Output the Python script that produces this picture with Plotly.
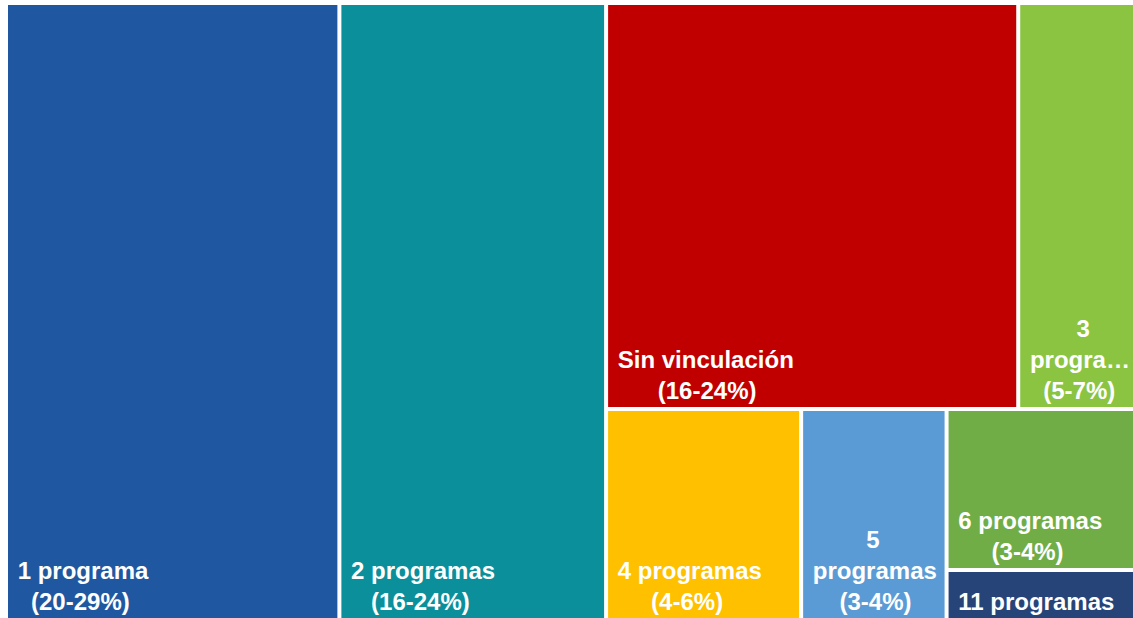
import plotly.graph_objects as go

# Leaf categories, their displayed labels and area values (share, %)
categories = ["1 programa", "2 programas", "Sin vinculación", "3 programas",
              "4 programas", "5 programas", "6 programas", "11 programas"]
ranges = ["(20-29%)", "(16-24%)", "(16-24%)", "(5-7%)",
          "(4-6%)", "(3-4%)", "(3-4%)", ""]
values = [29.5, 23.6, 24.0, 6.8, 5.9, 4.4, 4.35, 1.35]
colors = ["#1F58A0", "#0A8F9B", "#C00000", "#8BC441",
          "#FFC000", "#5B9BD5", "#70AD47", "#264478"]

# Displayed label text (lines roughly centred with non-breaking spaces)
NB = "\u00a0"
label_text = [
    NB + "1 programa<br>" + NB * 3 + "(20-29%)",
    NB + "2 programas<br>" + NB * 4 + "(16-24%)",
    NB + "Sin vinculación<br>" + NB * 7 + "(16-24%)",
    NB * 8 + "3<br>" + NB + "progra…<br>" + NB * 3 + "(5-7%)",
    NB + "4 programas<br>" + NB * 6 + "(4-6%)",
    NB * 9 + "5<br>" + NB + "programas<br>" + NB * 5 + "(3-4%)",
    NB + "6 programas<br>" + NB * 6 + "(3-4%)",
    NB + "11 programas",
]

# Layout grouping (invisible intermediate nodes)
leaf_parent = ["", "", "top", "top", "bottom", "bottom", "small", "small"]
group_ids = ["right", "top", "bottom", "small"]
group_parent = ["", "right", "right", "bottom"]

ids = group_ids + categories
parents = group_parent + leaf_parent
labels = group_ids + categories
vals = [0, 0, 0, 0] + values
texts = ["", "", "", ""] + label_text
cols = ["white"] * 4 + colors

# order: root children must be 1 programa, 2 programas, right
order_ids = ["1 programa", "2 programas", "right", "top", "Sin vinculación", "3 programas",
             "bottom", "4 programas", "5 programas", "small", "6 programas", "11 programas"]
idx = [ids.index(i) for i in order_ids]

fig = go.Figure(go.Treemap(
    ids=[ids[i] for i in idx],
    labels=[labels[i] for i in idx],
    parents=[parents[i] for i in idx],
    values=[vals[i] for i in idx],
    text=[texts[i] for i in idx],
    branchvalues="remainder",
    sort=False,
    textinfo="text",
    textposition="bottom left",
    textfont=dict(family="Liberation Sans, Arial, sans-serif", size=24, color="white", weight="bold"),
    marker=dict(colors=[cols[i] for i in idx], line=dict(width=0),
                pad=dict(t=0, l=0, r=0, b=0)),
    tiling=dict(packing="slice-dice", pad=4),
    pathbar=dict(visible=False),
    hoverinfo="skip",
))

fig.update_layout(
    width=1133, height=618,
    margin=dict(l=8, r=0, t=5, b=0),
    paper_bgcolor="white",
    uniformtext=dict(minsize=24, mode="show"),
)

fig.write_html(
    "out.html",
    config={"displayModeBar": False},
    post_script="document.body.style.margin='0';document.body.style.overflow='hidden';",
)
